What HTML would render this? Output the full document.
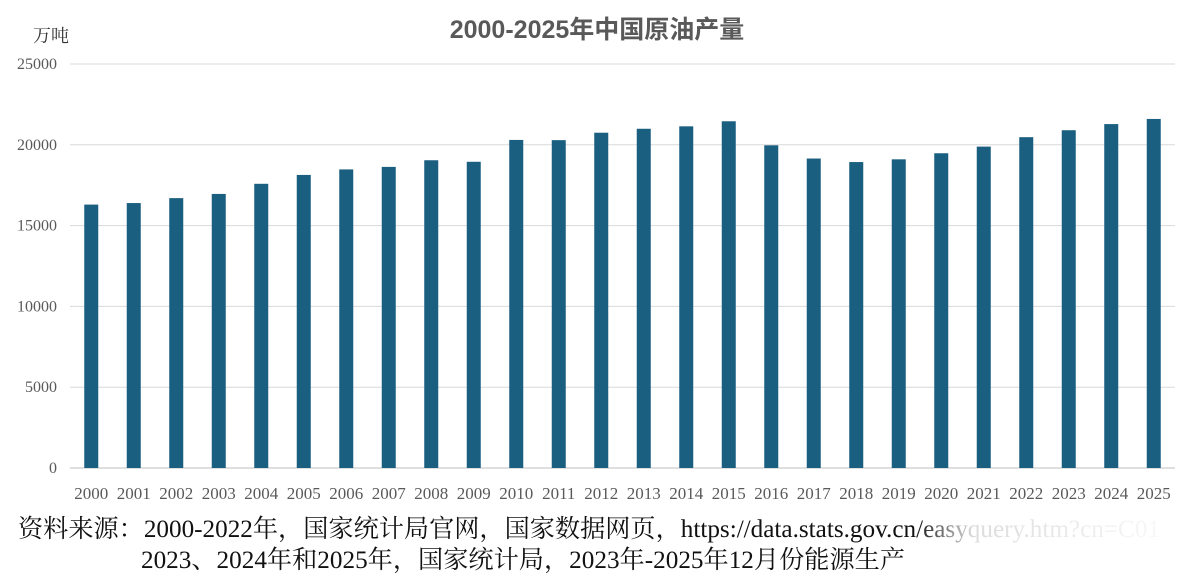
<!DOCTYPE html>
<html><head><meta charset="utf-8">
<style>
html,body{margin:0;padding:0;background:#fff;width:1200px;height:588px;overflow:hidden}
svg{display:block}
text{font-family:"Liberation Serif","Noto Serif CJK SC",serif}
</style></head>
<body>
<svg id="chart" width="1200" height="588">
<text x="597" y="38" text-anchor="middle" font-size="25" font-weight="bold" fill="#595959" style="font-family:'Liberation Sans','Noto Sans CJK SC',sans-serif">2000-2025年中国原油产量</text>
<text x="33" y="42" font-size="18" fill="#333">万吨</text>
<g id="grid"></g><g id="bars"></g><g id="xlabels"></g>
<text x="18" y="537" font-size="25" fill="#111" textLength="1142" lengthAdjust="spacingAndGlyphs">资料来源：2000-2022年，国家统计局官网，国家数据网页，https://data.stats.gov.cn/easyquery.htm?cn=C01</text>
<text x="141" y="568" font-size="25" fill="#111" textLength="764" lengthAdjust="spacingAndGlyphs">2023、2024年和2025年，国家统计局，2023年-2025年12月份能源生产</text>
<defs><linearGradient id="fade" x1="0" x2="1"><stop offset="0" stop-color="#fff" stop-opacity="0"/><stop offset="0.2" stop-color="#fff" stop-opacity="0.85"/><stop offset="1" stop-color="#fff"/></linearGradient></defs>
<rect x="915" y="512" width="285" height="70" fill="url(#fade)"/>
</svg>
<script>
const categories=["2000","2001","2002","2003","2004","2005","2006","2007","2008","2009","2010","2011","2012","2013","2014","2015","2016","2017","2018","2019","2020","2021","2022","2023","2024","2025"];
const production=[16300,16396,16700,16960,17587,18135,18477,18632,19044,18949,20301,20288,20748,20992,21143,21456,19969,19151,18932,19101,19477,19888,20472,20902,21282,21600];
const yTicks=[0,5000,10000,15000,20000,25000];
const NS="http://www.w3.org/2000/svg";
const x0=70,x1=1175,y0=468,y1=64,yMax=25000;
const band=(x1-x0)/categories.length;
const yScale=v=>y0-(v/yMax)*(y0-y1);
const xCenter=i=>x0+band*(i+0.5);
function mk(tag,attrs,parent){const e=document.createElementNS(NS,tag);for(const k in attrs)e.setAttribute(k,attrs[k]);parent.appendChild(e);return e;}
const grid=document.getElementById('grid'),bars=document.getElementById('bars'),xl=document.getElementById('xlabels');
yTicks.forEach(t=>{
 const y=yScale(t);
 const l=mk('line',{x1:x0,x2:x1,y1:y,y2:y,stroke:t===0?'#bfbfbf':'#d9d9d9','stroke-width':1},grid);
 
 
 const tx=mk('text',{x:57,y:y+5,'text-anchor':'end','font-size':16,fill:'#595959'},grid);
 tx.textContent=t;
 
 
});
categories.forEach((c,i)=>{
 const y=yScale(production[i]);
 const r=mk('rect',{x:xCenter(i)-7,y:y,width:14,height:y0-y,fill:'#1a5f80'},bars);
 
 
 const t=mk('text',{x:xCenter(i),y:499,'text-anchor':'middle','font-size':17,fill:'#595959'},xl);
 t.textContent=c;
 
 
});
</script>
</body></html>
